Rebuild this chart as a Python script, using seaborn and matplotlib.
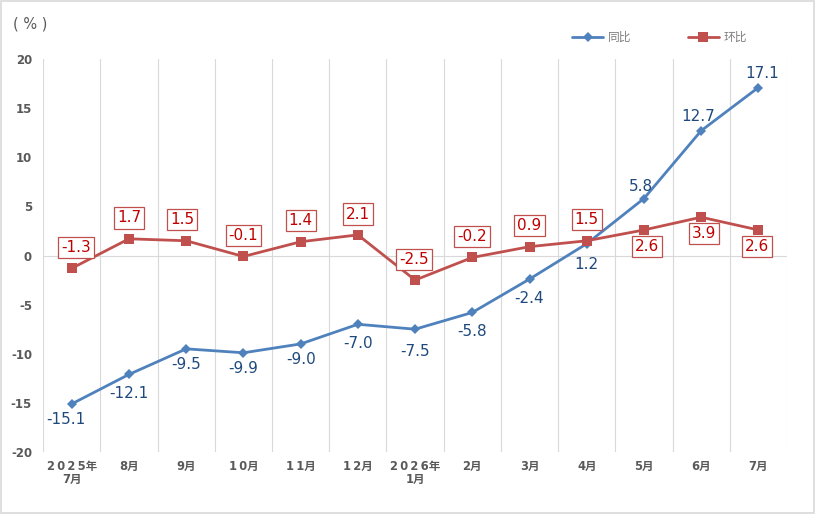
import matplotlib
matplotlib.use('Agg')
import matplotlib.pyplot as plt
import seaborn as sns
import pandas as pd

# Chart data
months = ['2025年\n7月', '8月', '9月', '10月', '11月', '12月', '2026年\n1月',
          '2月', '3月', '4月', '5月', '6月', '7月']
yoy = [-15.1, -12.1, -9.5, -9.9, -9.0, -7.0, -7.5, -5.8, -2.4, 1.2, 5.8, 12.7, 17.1]
mom = [-1.3, 1.7, 1.5, -0.1, 1.4, 2.1, -2.5, -0.2, 0.9, 1.5, 2.6, 3.9, 2.6]

blue = '#4F81BD'
red = '#C0504D'
grey = '#595959'

sns.set_style('white')
plt.rcParams['font.family'] = ['DejaVu Sans', 'Noto Sans CJK SC']
plt.rcParams['axes.unicode_minus'] = False

df = pd.DataFrame({'idx': range(len(months)), '同比': yoy, '环比': mom})


def spaced(s):
    # loose spacing between digits only, like the original axis labels
    out = []
    for line in s.split('\n'):
        digits = line.rstrip('年月')
        out.append('\u2009'.join(digits) + line[len(digits):])
    return '\n'.join(out)


fig = plt.figure(figsize=(8.15, 5.14), dpi=100)
ax = fig.add_axes([0.053, 0.1206, 0.9126, 0.7646])

sns.lineplot(data=df, x='idx', y='同比', ax=ax, color=blue, marker='D',
             markersize=5, markeredgewidth=0, linewidth=2, label='同比')
sns.lineplot(data=df, x='idx', y='环比', ax=ax, color=red, marker='s',
             markersize=7, markeredgewidth=0, linewidth=2, label='环比')

ax.set_xlim(-0.5, len(months) - 0.5)
ax.set_ylim(-20, 20)
ax.set_yticks(range(-20, 21, 5))
ax.set_xticks(range(len(months)))
ax.set_xticklabels([spaced(m) for m in months], fontsize=8.3, fontweight='bold',
                   color=grey, linespacing=1.0)
ax.tick_params(axis='y', labelsize=8.5, labelcolor=grey, length=0, pad=8)
ax.tick_params(axis='x', length=0, pad=5.5)
for lab in ax.get_yticklabels():
    lab.set_fontweight('bold')
ax.set_xlabel('')
ax.set_ylabel('')

# category boundary grid lines
for b in range(len(months) + 1):
    ax.axvline(b - 0.5, color='#D9D9D9', linewidth=0.8, zorder=0)
ax.axhline(0, color='#D9D9D9', linewidth=0.8, zorder=0)
for s in ax.spines.values():
    s.set_visible(False)

# value labels, offsets in points
yoy_off = [(-4, -11), (0, -14), (0, -11), (0, -11), (0, -11), (0, -14), (0, -16),
           (0, -14), (0, -14), (0, -15), (-2, 9), (-2, 10), (3, 10)]
mom_off = [(3, 15), (0, 15), (-3, 15), (0, 15), (0, 15), (0, 15), (-1, 15),
           (0, 15), (0, 15), (0, 15), (2, -12), (2, -12), (-1, -12)]

for i, v in enumerate(yoy):
    ax.annotate(f'{v:.1f}', (i, v), xytext=yoy_off[i], textcoords='offset points',
                ha='center', va='center', fontsize=11, color='#1F497D')
for i, v in enumerate(mom):
    ax.annotate(f'{v:.1f}', (i, v), xytext=mom_off[i], textcoords='offset points',
                ha='center', va='center', fontsize=11, color='#C00000',
                bbox=dict(boxstyle='square,pad=0.2', fc='white', ec=red, lw=0.9))

fig.text(0.016, 0.953, '( % )', fontsize=10.5, color=grey, va='center')

leg = ax.legend(loc='center left', bbox_to_anchor=(0.697, 1.055), ncol=2, frameon=False,
                handlelength=2.6, columnspacing=4.8, handletextpad=0.4,
                prop={'family': ['Noto Sans CJK SC'], 'size': 8.5})
for t in leg.get_texts():
    t.set_color('#7F7F7F')

# light outer border
fig.patches.append(plt.Rectangle((0.001, 0.001), 0.998, 0.997, transform=fig.transFigure,
                                 fill=False, ec='#D9D9D9', lw=1.2))

fig.savefig('out.png', dpi=100)
